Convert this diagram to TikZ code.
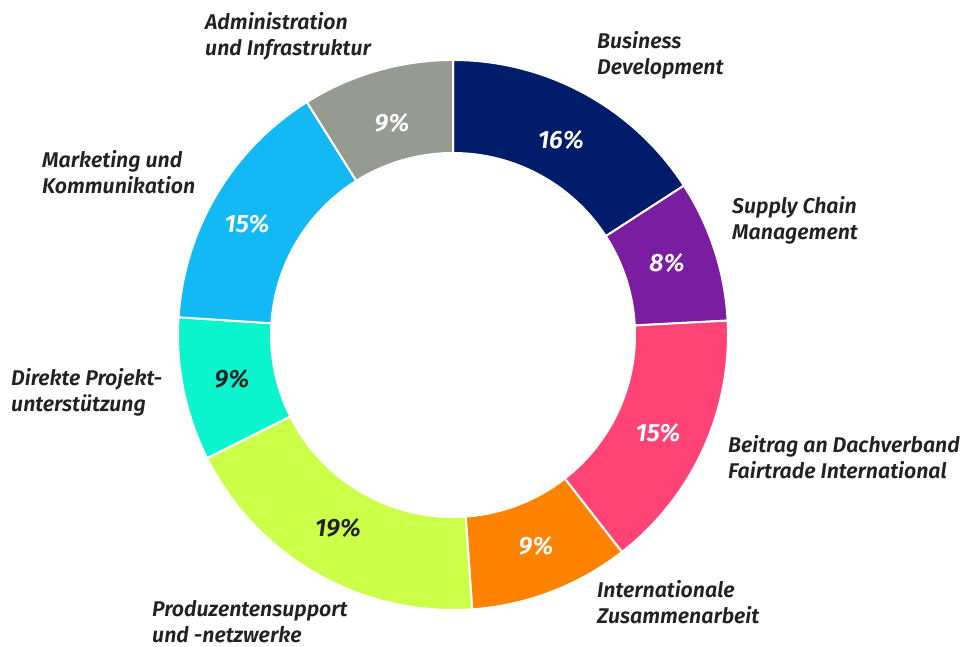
\documentclass[tikz,border=0pt]{standalone}
\usepackage{fontspec}
\setmainfont{Fira Sans}[BoldItalicFont={Fira Sans SemiBold Italic}]
\usetikzlibrary{calc}
\definecolor{cBus}{HTML}{001C6B}
\definecolor{cSup}{HTML}{7B1DA1}
\definecolor{cBei}{HTML}{FF4475}
\definecolor{cInt}{HTML}{FF8200}
\definecolor{cPro}{HTML}{CCFF47}
\definecolor{cDir}{HTML}{0AF5CD}
\definecolor{cMar}{HTML}{12B9F5}
\definecolor{cAdm}{HTML}{959B91}
\definecolor{txt}{HTML}{222222}
\newcommand\donutseg[3]{%
  \filldraw[fill=#3, draw=white, line width=2pt, line join=miter]
    (C) ++(#1:275) arc[start angle=#1, end angle=#2, radius=275pt]
    -- ($(C)+(#2:182)$) arc[start angle=#2, end angle=#1, radius=182pt] -- cycle;}
\begin{document}
\begin{tikzpicture}[x=1pt,y=1pt,
  lbl/.style={anchor=west, align=left, inner sep=0pt, text=txt,
    font=\fontsize{21.3}{26}\selectfont\bfseries\itshape},
  pct/.style={inner sep=0pt, text=white,
    font=\fontsize{25}{28}\selectfont\bfseries\itshape},
  pctd/.style={pct, text=txt}]
\useasboundingbox (0,0) rectangle (963,646);
\coordinate (C) at (453,311);
\donutseg{90}{32.9}{cBus}
\donutseg{32.9}{3.0}{cSup}
\donutseg{3.0}{-52.1}{cBei}
\donutseg{-52.1}{-86.0}{cInt}
\donutseg{-86.0}{-153.4}{cPro}
\donutseg{-153.4}{-183.7}{cDir}
\donutseg{-183.7}{-237.9}{cMar}
\donutseg{-237.9}{-270}{cAdm}
\node[pct]  (p1) at (561,506) {16\%};
\node[pct]  (p2) at (667,383) {8\%};
\node[pct]  (p3) at (658,213) {15\%};
\node[pct]  (p4) at (536,100) {9\%};
\node[pctd] (p5) at (338,118) {19\%};
\node[pctd] (p6) at (232,267) {9\%};
\node[pct]  (p7) at (247,422) {15\%};
\node[pct]  (p8) at (392,523) {9\%};
\node[lbl] (l8) at (205,609.5) {Administration\\und Infrastruktur};
\node[lbl] (l1) at (597,591) {Business\\Development};
\node[lbl] (l2) at (732,426) {Supply Chain\\Management};
\node[lbl] (l3) at (728,189) {Beitrag an Dachverband\\Fairtrade International};
\node[lbl] (l4) at (597,43.5) {Internationale\\Zusammenarbeit};
\node[lbl] (l5) at (152,24.5) {Produzentensupport\\und -netzwerke};
\node[lbl] (l6) at (11,253.5) {Direkte Projekt-\\unterstützung};
\node[lbl] (l7) at (42,473.5) {Marketing und\\Kommunikation};
\end{tikzpicture}
\end{document}
